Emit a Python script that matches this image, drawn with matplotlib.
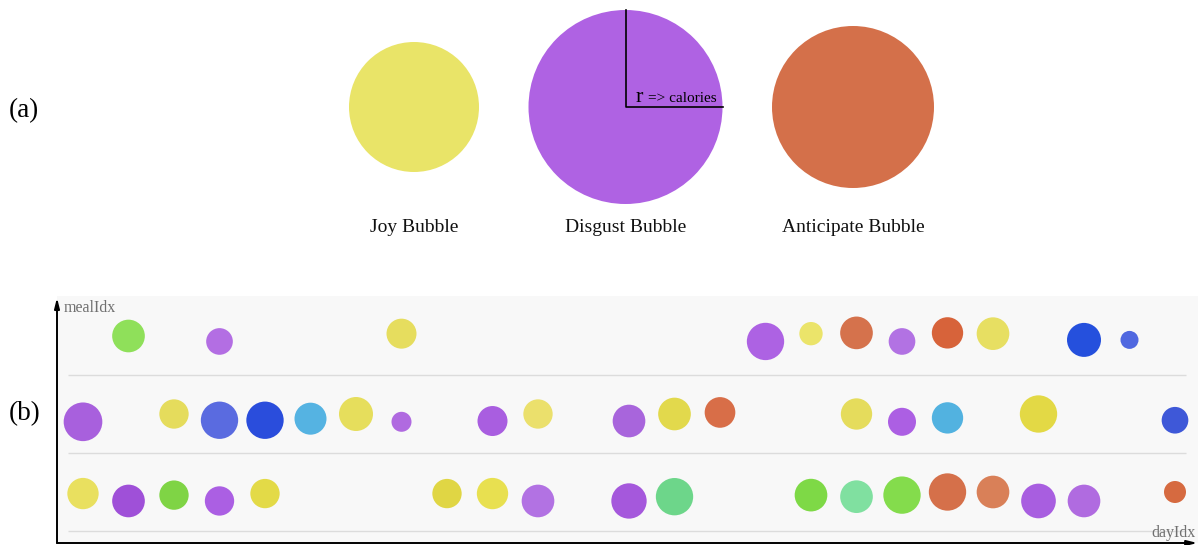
import matplotlib
matplotlib.use("Agg")
import matplotlib.pyplot as plt
from matplotlib.patches import Circle

plt.rcParams['font.family'] = ['Liberation Serif', 'DejaVu Serif']

# ---------------- data ----------------
# (a) example bubbles
legend_labels = ["Joy Bubble", "Disgust Bubble", "Anticipate Bubble"]
legend_calories = [650, 970, 810]
legend_colors = ["#e9e468", "#af62e3", "#d4704a"]

# (b) bubble chart: top row (meal 2)
row2_day = [1, 3, 7, 15, 16, 17, 18, 19, 20, 22, 23]
row2_meal = [2.50, 2.43, 2.53, 2.43, 2.53, 2.54, 2.43, 2.54, 2.53, 2.45, 2.45]
row2_cal = [490, 400, 450, 560, 350, 490, 400, 470, 490, 510, 270]
row2_col = ["#8fe05a", "#b36ee3", "#e6dd5e", "#ad62e3", "#ebe46a", "#d5724c",
            "#b272e3", "#d7633a", "#e7df62", "#2550dd", "#5068e0"]

# middle row (meal 1)
row1_day = [0, 2, 3, 4, 5, 6, 7, 9, 10, 12, 13, 14, 17, 18, 19, 21, 24]
row1_meal = [1.40, 1.50, 1.42, 1.42, 1.44, 1.50, 1.40, 1.41, 1.50, 1.41, 1.50,
             1.52, 1.50, 1.40, 1.45, 1.50, 1.42]
row1_cal = [580, 440, 560, 560, 480, 510, 300, 450, 440, 490, 490, 460, 470,
            420, 470, 560, 400]
row1_col = ["#a860dd", "#e5dc5c", "#5a6be0", "#2a4ddc", "#55b3e2", "#e6de5c",
            "#b06ae0", "#a95ee0", "#ebe06c", "#a865dc", "#e2d94c", "#d86e48",
            "#e5dc5c", "#ac5fe3", "#52b2e0", "#e3d945", "#3e58d8"]

# bottom row (meal 0)
row0_day = [0, 1, 2, 3, 4, 8, 9, 10, 12, 13, 16, 17, 18, 19, 20, 21, 22, 24]
row0_meal = [0.48, 0.385, 0.46, 0.385, 0.48, 0.48, 0.48, 0.385, 0.385, 0.44,
             0.46, 0.44, 0.46, 0.50, 0.50, 0.385, 0.385, 0.50]
row0_cal = [470, 490, 440, 440, 440, 440, 470, 490, 530, 560, 490, 490, 560,
            560, 490, 520, 490, 330]
row0_col = ["#e9e05f", "#9f50d8", "#7fd445", "#ab5fe3", "#e3da47", "#e0d644",
            "#e8e050", "#b272e3", "#a558dc", "#6dd68a", "#7ed946", "#80e0a0",
            "#84dc4c", "#d5704a", "#d98058", "#a85ee0", "#b06be0", "#d66a40"]

grid_levels = [0, 1, 2]

# ---------------- figure ----------------
W, H, DPI = 1203, 545, 100
fig = plt.figure(figsize=(W / DPI, H / DPI), dpi=DPI)
fig.patch.set_facecolor("white")

# full-figure axes in pixel units for part (a)
ax_a = fig.add_axes([0, 0, 1, 1])
ax_a.set_xlim(0, W)
ax_a.set_ylim(H, 0)
ax_a.axis("off")

TOP_PX_PER_CAL = 0.1
first_left = 349
gap = 49.5
cy = 107
x = first_left
for i, (lab, cal, col) in enumerate(zip(legend_labels, legend_calories, legend_colors)):
    r = cal * TOP_PX_PER_CAL
    cx = x + r
    ax_a.add_patch(Circle((cx, cy), r, facecolor=col, edgecolor="none"))
    ax_a.text(cx, 228, lab, ha="center", va="center", fontsize=14, color="#111111")
    if i == 1:
        ax_a.plot([cx, cx, cx + r], [cy - r, cy, cy], color="black", lw=1.2)
        ax_a.text(cx + 10, cy - 5.5, "r", ha="left", va="baseline", fontsize=16)
        ax_a.text(cx + 22, cy - 5.5, "=> calories", ha="left", va="baseline", fontsize=11)
    x = cx + r + gap

ax_a.text(9, 111, "(a)", ha="left", va="center", fontsize=19.5)
ax_a.text(9, 414, "(b)", ha="left", va="center", fontsize=19.5)

# part (b) axes
px_left, px_right, px_top, px_bottom = 57, 1198, 296, 543
ax = fig.add_axes([px_left / W, (H - px_bottom) / H,
                   (px_right - px_left) / W, (px_bottom - px_top) / H])
ax.set_facecolor("#f8f8f8")
day_px = 45.5
meal_px = 78.0
x0_px = 83
grid0_px = 531
ax.set_xlim((px_left - x0_px) / day_px, (px_right - x0_px) / day_px)
ax.set_ylim((grid0_px - px_bottom) / meal_px, (grid0_px - px_top) / meal_px)
for s in ax.spines.values():
    s.set_visible(False)
ax.set_xticks([])
ax.set_yticks([])

ax.hlines(grid_levels, (68 - x0_px) / day_px, (1186 - x0_px) / day_px,
          color="#dcdcdc", lw=1.0, zorder=1)

BOTTOM_PX_PER_CAL = 1 / 30.0
for days, meals, cals, cols in [(row2_day, row2_meal, row2_cal, row2_col),
                                (row1_day, row1_meal, row1_cal, row1_col),
                                (row0_day, row0_meal, row0_cal, row0_col)]:
    sizes = [(2 * c * BOTTOM_PX_PER_CAL * 72 / DPI) ** 2 for c in cals]
    ax.scatter(days, meals, s=sizes, c=cols, linewidths=0, zorder=3)

# axis arrows
ax.annotate("", xy=(0, 0.993), xytext=(0, 0), xycoords="axes fraction",
            arrowprops=dict(arrowstyle="-|>,head_length=0.6,head_width=0.15",
                            color="black", lw=1.4, shrinkA=0, shrinkB=0))
ax.annotate("", xy=(0.9995, 0), xytext=(0, 0), xycoords="axes fraction",
            arrowprops=dict(arrowstyle="-|>,head_length=0.6,head_width=0.15",
                            color="black", lw=1.4, shrinkA=0, shrinkB=0))
ax.text(0.006, 0.951, "mealIdx", transform=ax.transAxes, ha="left", va="center",
        fontsize=11.5, color="#707070")
ax.text(0.998, 0.042, "dayIdx", transform=ax.transAxes, ha="right", va="center",
        fontsize=11.5, color="#707070")

fig.savefig("out.png", dpi=DPI, facecolor="white")
